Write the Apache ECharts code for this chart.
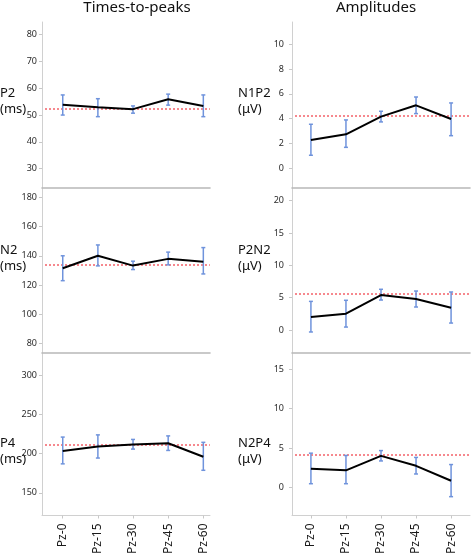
<!DOCTYPE html>
<html><head><meta charset="utf-8">
<script src="https://cdn.jsdelivr.net/npm/echarts@6/dist/echarts.min.js"></script>
<style>html,body{margin:0;padding:0;background:#fff}#c{width:472px;height:557px}</style>
</head><body><div id="c"></div>
<script>
// ---- data ----
const categories = ['Pz-0', 'Pz-15', 'Pz-30', 'Pz-45', 'Pz-60'];

const p2Values = [53.8, 52.9, 52.2, 55.9, 53.4];
const p2Upper  = [57.5, 56.1, 53.4, 57.8, 57.5];
const p2Lower  = [50.0, 49.4, 50.7, 53.7, 49.4];
const p2Ref = 52.2;
const p2Ticks = [30, 40, 50, 60, 70, 80];

const n2Values = [131.5, 140.0, 133.3, 137.9, 136.0];
const n2Upper  = [140.0, 147.4, 136.3, 142.5, 145.6];
const n2Lower  = [123.0, 133.1, 130.6, 133.8, 127.6];
const n2Ref = 133.8;
const n2Ticks = [80, 100, 120, 140, 160, 180];

const p4Values = [203.3, 209.0, 211.5, 213.1, 195.9];
const p4Upper  = [221.0, 223.8, 218.0, 222.5, 214.3];
const p4Lower  = [186.9, 194.3, 205.7, 204.0, 178.7];
const p4Ref = 211.5;
const p4Ticks = [150, 200, 250, 300];

const n1p2Values = [2.28, 2.74, 4.17, 5.08, 3.98];
const n1p2Upper  = [3.55, 3.90, 4.60, 5.75, 5.27];
const n1p2Lower  = [1.05, 1.69, 3.74, 4.41, 2.63];
const n1p2Ref = 4.19;
const n1p2Ticks = [0, 2, 4, 6, 8, 10];

const p2n2Values = [2.00, 2.53, 5.41, 4.79, 3.45];
const p2n2Upper  = [4.43, 4.60, 6.30, 6.03, 5.88];
const p2n2Lower  = [-0.30, 0.46, 4.64, 3.56, 1.08];
const p2n2Ref = 5.52;
const p2n2Ticks = [0, 5, 10, 15, 20];

const n2p4Values = [2.36, 2.15, 4.00, 2.73, 0.83];
const n2p4Upper  = [4.34, 4.05, 4.67, 3.80, 2.89];
const n2p4Lower  = [0.45, 0.45, 3.35, 1.69, -1.20];
const n2p4Ref = 4.05;
const n2p4Ticks = [0, 5, 10, 15];

// ---- layout ----
const panels = [
  {name:'P2',   unit:'(ms)', vals:p2Values,   up:p2Upper,   lo:p2Lower,   ref:p2Ref,   ticks:p2Ticks,   ymin:22.8,  ymax:84.7,  col:0, row:0},
  {name:'N2',   unit:'(ms)', vals:n2Values,   up:n2Upper,   lo:n2Lower,   ref:n2Ref,   ticks:n2Ticks,   ymin:73.6,  ymax:186.3, col:0, row:1},
  {name:'P4',   unit:'(ms)', vals:p4Values,   up:p4Upper,   lo:p4Lower,   ref:p4Ref,   ticks:p4Ticks,   ymin:121.1, ymax:328.1, col:0, row:2},
  {name:'N1P2', unit:'(\u03bcV)', vals:n1p2Values, up:n1p2Upper, lo:n1p2Lower, ref:n1p2Ref, ticks:n1p2Ticks, ymin:-1.59, ymax:11.8,  col:1, row:0},
  {name:'P2N2', unit:'(\u03bcV)', vals:p2n2Values, up:p2n2Upper, lo:p2n2Lower, ref:p2n2Ref, ticks:p2n2Ticks, ymin:-3.55, ymax:21.96, col:1, row:1},
  {name:'N2P4', unit:'(\u03bcV)', vals:n2p4Values, up:n2p4Upper, lo:n2p4Lower, ref:n2p4Ref, ticks:n2p4Ticks, ymin:-3.6,  ymax:17.1,  col:1, row:2}
];
const colX = [{left:42, width:168, xmin:-0.59, xmax:4.19, labelX:0, labelMargin:5},
              {left:292, width:178, xmin:-0.54, xmax:4.54, labelX:238, labelMargin:8}];
const rowY = [{top:22, height:166, labelY:101}, {top:188, height:165, labelY:258}, {top:353, height:167, labelY:451}];

const grid = [], xAxis = [], yAxis = [], series = [], graphic = [];
const catIdx = categories.map((c, i) => i);

function errRender(params, api) {
  const x = api.value(0), hi = api.value(1), lo = api.value(2);
  const a = api.coord([x, hi]), b = api.coord([x, lo]);
  const cap = 2;
  const style = {stroke:'#6f93dc', lineWidth:1.5};
  return {type:'group', children:[
    {type:'line', shape:{x1:a[0], y1:a[1], x2:b[0], y2:b[1]}, style},
    {type:'line', shape:{x1:a[0]-cap, y1:a[1], x2:a[0]+cap, y2:a[1]}, style},
    {type:'line', shape:{x1:b[0]-cap, y1:b[1], x2:b[0]+cap, y2:b[1]}, style}
  ]};
}

function refRender(params, api) {
  const cs = params.coordSys;
  const y = Math.round(api.coord([0, api.value(0)])[1]);
  return {type:'line', shape:{x1:cs.x + 3, y1:y, x2:cs.x + cs.width, y2:y},
    style:{stroke:'#f03a44', lineWidth:1.2, lineDash:[2, 2]}};
}

panels.forEach((p, i) => {
  const c = colX[p.col], r = rowY[p.row];
  const bottom = p.row === 2;
  grid.push({left:c.left, width:c.width, top:r.top, height:r.height});
  xAxis.push({
    type:'value', gridIndex:i, min:c.xmin, max:c.xmax,
    splitLine:{show:false},
    axisLine:{show:true, onZero:false, lineStyle:{color: bottom ? '#d0d0d0' : '#b8b8b8', width: bottom ? 1 : 1.6}},
    axisTick:{show:bottom, customValues:catIdx, length:3, lineStyle:{color:'#c8c8c8'}},
    axisLabel:{show:bottom, customValues:catIdx, rotate:90, fontSize:12, color:'#1a1a1a',
      fontFamily:'Noto Sans', margin:8, formatter:v => categories[Math.round(v)]}
  });
  yAxis.push({
    type:'value', gridIndex:i, min:p.ymin, max:p.ymax,
    splitLine:{show:false},
    axisLine:{show:true, onZero:false, lineStyle:{color:'#d0d0d0', width:1}},
    axisTick:{show:true, customValues:p.ticks, length:3, lineStyle:{color:'#c8c8c8'}},
    axisLabel:{customValues:p.ticks, fontSize:9, color:'#2a2a2a', fontFamily:'Noto Sans', margin:c.labelMargin}
  });
  series.push({
    type:'custom', xAxisIndex:i, yAxisIndex:i, renderItem:refRender, z:1, silent:true,
    data:[[p.ref]], encode:{y:0}
  });
  series.push({
    type:'custom', xAxisIndex:i, yAxisIndex:i, renderItem:errRender, z:2, silent:true,
    data: catIdx.map(k => [k, p.up[k], p.lo[k]])
  });
  series.push({
    type:'line', xAxisIndex:i, yAxisIndex:i, z:3, symbol:'none', silent:true,
    lineStyle:{color:'#000', width:2},
    data: catIdx.map(k => [k, p.vals[k]])
  });
  graphic.push({type:'text', left:c.labelX, top:r.labelY - 16,
    style:{text:p.name + '\n' + p.unit, font:'13px "Noto Sans"', lineHeight:16, fill:'#111'}});
});

graphic.push({type:'text', x:137, y:8, style:{text:'Times-to-peaks', font:'15px "Noto Sans"', textAlign:'center', textVerticalAlign:'middle', fill:'#111'}});
graphic.push({type:'text', x:376, y:8, style:{text:'Amplitudes', font:'15px "Noto Sans"', textAlign:'center', textVerticalAlign:'middle', fill:'#111'}});

const chart = echarts.init(document.getElementById('c'), null, {renderer:'canvas'});
chart.setOption({animation:false, backgroundColor:'#fff', grid, xAxis, yAxis, series, graphic});
</script>
</body></html>
